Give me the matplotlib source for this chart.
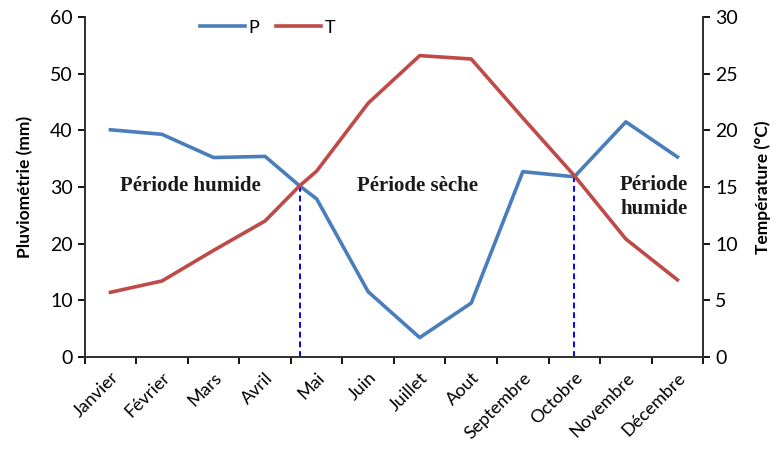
import matplotlib.pyplot as plt
import numpy as np

# Mois
mois = ['Janvier', 'Février', 'Mars', 'Avril', 'Mai', 'Juin', 'Juillet',
        'Aout', 'Septembre', 'Octobre', 'Novembre', 'Décembre']

# positions des points (le point supplémentaire correspond au croisement avril/mai)
pos = [0, 1, 2, 3, 3.67, 4, 5, 6, 7, 8, 9, 10, 11]
# Pluviométrie (mm)
P = [40.1, 39.3, 35.2, 35.4, 30.2, 27.9, 11.5, 3.4, 9.5, 32.7, 31.8, 41.5, 35.3]
# Température (°C)
T = [5.7, 6.7, 9.4, 12.0, 15.1, 16.4, 22.4, 26.6, 26.3, 21.1, 16.0, 10.4, 6.8]

# limites des périodes (croisements P = 2T)
croisements_x = [3.67, 9]
croisements_p = [30.2, 31.8]

bleu = '#4A7EBB'
rouge = '#BE4B48'

plt.rcParams['font.family'] = ['Lato', 'DejaVu Sans']

fig = plt.figure(figsize=(7.77, 4.5), dpi=100)
ax = fig.add_axes([0.109, 0.207, 0.796, 0.755])
ax2 = ax.twinx()

lp, = ax.plot(pos, P, color=bleu, linewidth=2.6, label='P')
lt, = ax2.plot(pos, T, color=rouge, linewidth=2.6, label='T')

for cx, cp in zip(croisements_x, croisements_p):
    ax.plot([cx, cx], [0, cp], color='#0000FF', linestyle=(0, (3, 2)), linewidth=1.4)

ax.set_xlim(-0.5, 11.5)
ax.set_ylim(0, 60)
ax2.set_ylim(0, 30)
ax.set_yticks(np.arange(0, 61, 10))
ax2.set_yticks(np.arange(0, 31, 5))

ax.set_xticks(range(12))
ax.set_xticklabels(mois, rotation=45, ha='right', rotation_mode='anchor', fontsize=13)
ax.set_xticks(np.arange(-0.5, 12, 1), minor=True)
ax.tick_params(axis='x', which='major', length=0, pad=9)
ax.tick_params(axis='x', which='minor', length=5, width=1.3, direction='out')
ax.tick_params(axis='y', labelsize=14, length=5, width=1.3)
ax2.tick_params(axis='y', labelsize=14, length=5, width=1.3)

for a in (ax, ax2):
    a.spines['top'].set_visible(False)
    for s in ('left', 'right', 'bottom'):
        a.spines[s].set_linewidth(1.4)
        a.spines[s].set_color('#333333')

ax.set_ylabel('Pluviométrie (mm)', fontsize=12.5, fontweight='bold', labelpad=12)
ax2.set_ylabel('Température (°C)', fontsize=12.5, fontweight='bold', labelpad=12)

serif = dict(family='Liberation Serif', fontweight='bold', fontsize=15, ha='center', va='center',
             color='#1a1a1a')
ax.text(1.55, 30.1, 'Période humide', **serif)
ax.text(5.95, 30.1, 'Période sèche', **serif)
ax.text(10.55, 28.2, 'Période\nhumide', linespacing=1.25, **serif)

ax.legend(handles=[lp, lt], loc='upper left', bbox_to_anchor=(0.16, 1.04), ncol=2,
          frameon=False, fontsize=13, handlelength=2.5, handletextpad=0.2, columnspacing=0.9)

fig.savefig('out.png', dpi=100)
